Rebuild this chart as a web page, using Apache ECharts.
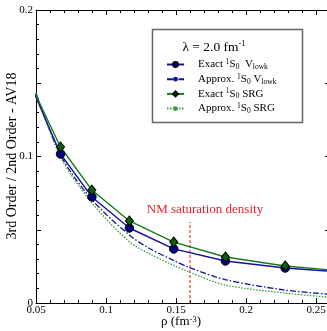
<!DOCTYPE html>
<html><head><meta charset="utf-8">
<script src="https://cdn.jsdelivr.net/npm/echarts@6/dist/echarts.min.js"></script>
<style>html,body{margin:0;padding:0;background:#fff}#c{width:327px;height:331px}</style>
</head><body><div id="c"></div>
<script>
// ---- data ----
const rhoExact = [0.0493, 0.0675, 0.0899, 0.1167, 0.1484, 0.1853, 0.2280, 0.2767];
const exactVlowk = [0.142, 0.1017, 0.0724, 0.0512, 0.0369, 0.0287, 0.0239, 0.0205];
const exactSRG = [0.143, 0.1065, 0.0771, 0.0560, 0.0416, 0.0314, 0.0253, 0.0212];
const rhoApprox = [0.05, 0.0679, 0.09, 0.1164, 0.1314, 0.1479, 0.1593, 0.185, 0.2271, 0.26];
const approxVlowk = [0.1433, 0.1003, 0.0705, 0.0466, 0.0370, 0.0293, 0.0243, 0.0160, 0.0089, 0.0059];
const approxSRG = [0.1433, 0.0990, 0.0683, 0.0420, 0.0335, 0.0259, 0.0212, 0.0123, 0.0068, 0.0039];
const nmRho = [0.16, 0.16];
const nmVal = [0, 0.0553];
const seriesNames = ['Exact 1S0 Vlowk', 'Approx. 1S0 Vlowk', 'Exact 1S0 SRG', 'Approx. 1S0 SRG'];
const legendRich = {
  'Exact 1S0 Vlowk': '{f|Exact }{sup|1}{t|S}{sub|0}{t|  V}{sub|lowk}',
  'Approx. 1S0 Vlowk': '{f|Approx. }{sup|1}{t|S}{sub|0}{t| V}{sub|lowk}',
  'Exact 1S0 SRG': '{f|Exact }{sup|1}{t|S}{sub|0}{t| SRG}',
  'Approx. 1S0 SRG': '{f|Approx. }{sup|1}{t|S}{sub|0}{t| SRG}'
};
const titleText = '{t|λ = 2.0 fm}{sup|-1}';
const yName = '3rd Order / 2nd Order - AV18';
const xName = '{t|ρ (fm}{sup|-3}{t|)}';
const nmLabel = 'NM saturation density';

// ---- chart ----
const FF = '"Liberation Serif","DejaVu Serif",serif';
const pair = (xs, ys) => xs.map((x, i) => [x, ys[i]]);
const BLUE = '#12129a', NAVY = '#000080', GREEN = '#1a7a1a', DGREEN = '#0b5e0b', LGREEN = '#3a9e3a';
const chart = echarts.init(document.getElementById('c'), null, {renderer: 'canvas'});

const tickStyle = {lineStyle: {color: '#000', width: 1}};
const xCommon = {
  type: 'value', min: 0.05, max: 0.3, interval: 0.05,
  axisLine: {show: true, onZero: false, lineStyle: {color: '#000', width: 1}},
  axisTick: Object.assign({inside: true, length: 5}, tickStyle),
  minorTick: Object.assign({show: true, splitNumber: 5, length: 3}, tickStyle),
  splitLine: {show: false}
};
const yCommon = {
  type: 'value', min: 0, max: 0.2, interval: 0.05,
  axisLine: {show: true, onZero: false, lineStyle: {color: '#000', width: 1}},
  axisTick: Object.assign({inside: true, length: 5}, tickStyle),
  minorTick: Object.assign({show: true, splitNumber: 5, length: 3}, tickStyle),
  splitLine: {show: false}
};

const option = {
  animation: false,
  backgroundColor: '#fff',
  grid: {left: 36, top: 10, width: 350, height: 293, containLabel: false, outerBoundsMode: 'none'},
  xAxis: [
    Object.assign({}, xCommon, {
      position: 'bottom',
      axisLabel: {color: '#000', fontFamily: FF, fontSize: 11, margin: 2,
        formatter: v => (v > 0.26 ? '' : String(+v.toFixed(2)))}
    }),
    Object.assign({}, xCommon, {position: 'top', axisLabel: {show: false}})
  ],
  yAxis: [
    Object.assign({}, yCommon, {
      position: 'left',
      axisLabel: {color: '#000', fontFamily: FF, fontSize: 11, margin: 3,
        formatter: v => (Math.abs(v * 10 - Math.round(v * 10)) < 1e-6 ? String(+v.toFixed(1)) : '')}
    }),
    Object.assign({}, yCommon, {position: 'right', offset: -56, axisLine: {show: false}, axisLabel: {show: false}})
  ],
  legend: {
    data: seriesNames,
    orient: 'vertical', left: 166, top: 58, itemGap: 1.7, itemWidth: 17, itemHeight: 6,
    z: 10, padding: 0,
    formatter: n => legendRich[n],
    textStyle: {rich: {
      f: {fontFamily: FF, fontSize: 11, color: '#000', lineHeight: 13, padding: [0, 0, 0, 9]},
      t: {fontFamily: FF, fontSize: 11, color: '#000', lineHeight: 13},
      sup: {fontFamily: FF, fontSize: 7.5, color: '#000', lineHeight: 6, verticalAlign: 'top'},
      sub: {fontFamily: FF, fontSize: 7.5, color: '#000', lineHeight: 6, verticalAlign: 'bottom'}
    }}
  },
  graphic: [
    {type: 'rect', z: 5, shape: {x: 152.5, y: 29.5, width: 150, height: 93},
      style: {fill: '#fff', stroke: '#666', lineWidth: 1.5}},
    {type: 'text', z: 11, x: 214, y: 47,
      style: {text: titleText, align: 'center', verticalAlign: 'middle', rich: {
        t: {fontFamily: FF, fontSize: 13.5, fill: '#000', lineHeight: 15},
        sup: {fontFamily: FF, fontSize: 8.5, fill: '#000', lineHeight: 6, verticalAlign: 'top'}
      }}},
    {type: 'text', z: 11, x: 12, y: 156, rotation: Math.PI / 2,
      style: {text: yName, align: 'center', verticalAlign: 'middle',
        fontFamily: FF, fontSize: 14, fill: '#000'}},
    {type: 'text', z: 11, x: 181, y: 322,
      style: {text: xName, align: 'center', verticalAlign: 'middle', rich: {
        t: {fontFamily: FF, fontSize: 13, fill: '#000', lineHeight: 14},
        sup: {fontFamily: FF, fontSize: 8.5, fill: '#000', lineHeight: 6, verticalAlign: 'top'}
      }}}
  ],
  series: [
    {name: seriesNames[0], type: 'line', data: pair(rhoExact, exactVlowk), clip: true, z: 4,
      symbol: 'circle', symbolSize: 8.5,
      lineStyle: {color: BLUE, width: 1.4},
      itemStyle: {color: NAVY, borderColor: '#000', borderWidth: 1}},
    {name: seriesNames[1], type: 'line', data: pair(rhoApprox, approxVlowk), clip: true, z: 3,
      symbol: 'none', smooth: 0.3,
      lineStyle: {color: BLUE, width: 1.3, type: [6, 2, 1.5, 2]},
      itemStyle: {color: BLUE}},
    {name: seriesNames[2], type: 'line', data: pair(rhoExact, exactSRG), clip: true, z: 4,
      symbol: 'diamond', symbolSize: [8, 10],
      lineStyle: {color: GREEN, width: 1.4},
      itemStyle: {color: DGREEN, borderColor: '#000', borderWidth: 1}},
    {name: seriesNames[3], type: 'line', data: pair(rhoApprox, approxSRG), clip: true, z: 3,
      symbol: 'none', smooth: 0.3,
      lineStyle: {color: LGREEN, width: 1.3, type: [1.5, 1.5]},
      itemStyle: {color: LGREEN}},
    {name: 'nm', type: 'line', z: 2, clip: true,
      data: pair(nmRho, nmVal).map((p, i) => i === 1 ? {value: p, label: {show: true}} : {value: p}),
      symbol: 'circle', symbolSize: 1, itemStyle: {color: 'rgba(0,0,0,0)'},
      lineStyle: {color: '#e01010', width: 1, type: [3, 2]},
      label: {show: false, position: 'top', distance: 5, offset: [15, 0], formatter: nmLabel,
        fontFamily: FF, fontSize: 13, color: '#e8202a'}}
  ]
};
chart.setOption(option);
</script></body></html>
